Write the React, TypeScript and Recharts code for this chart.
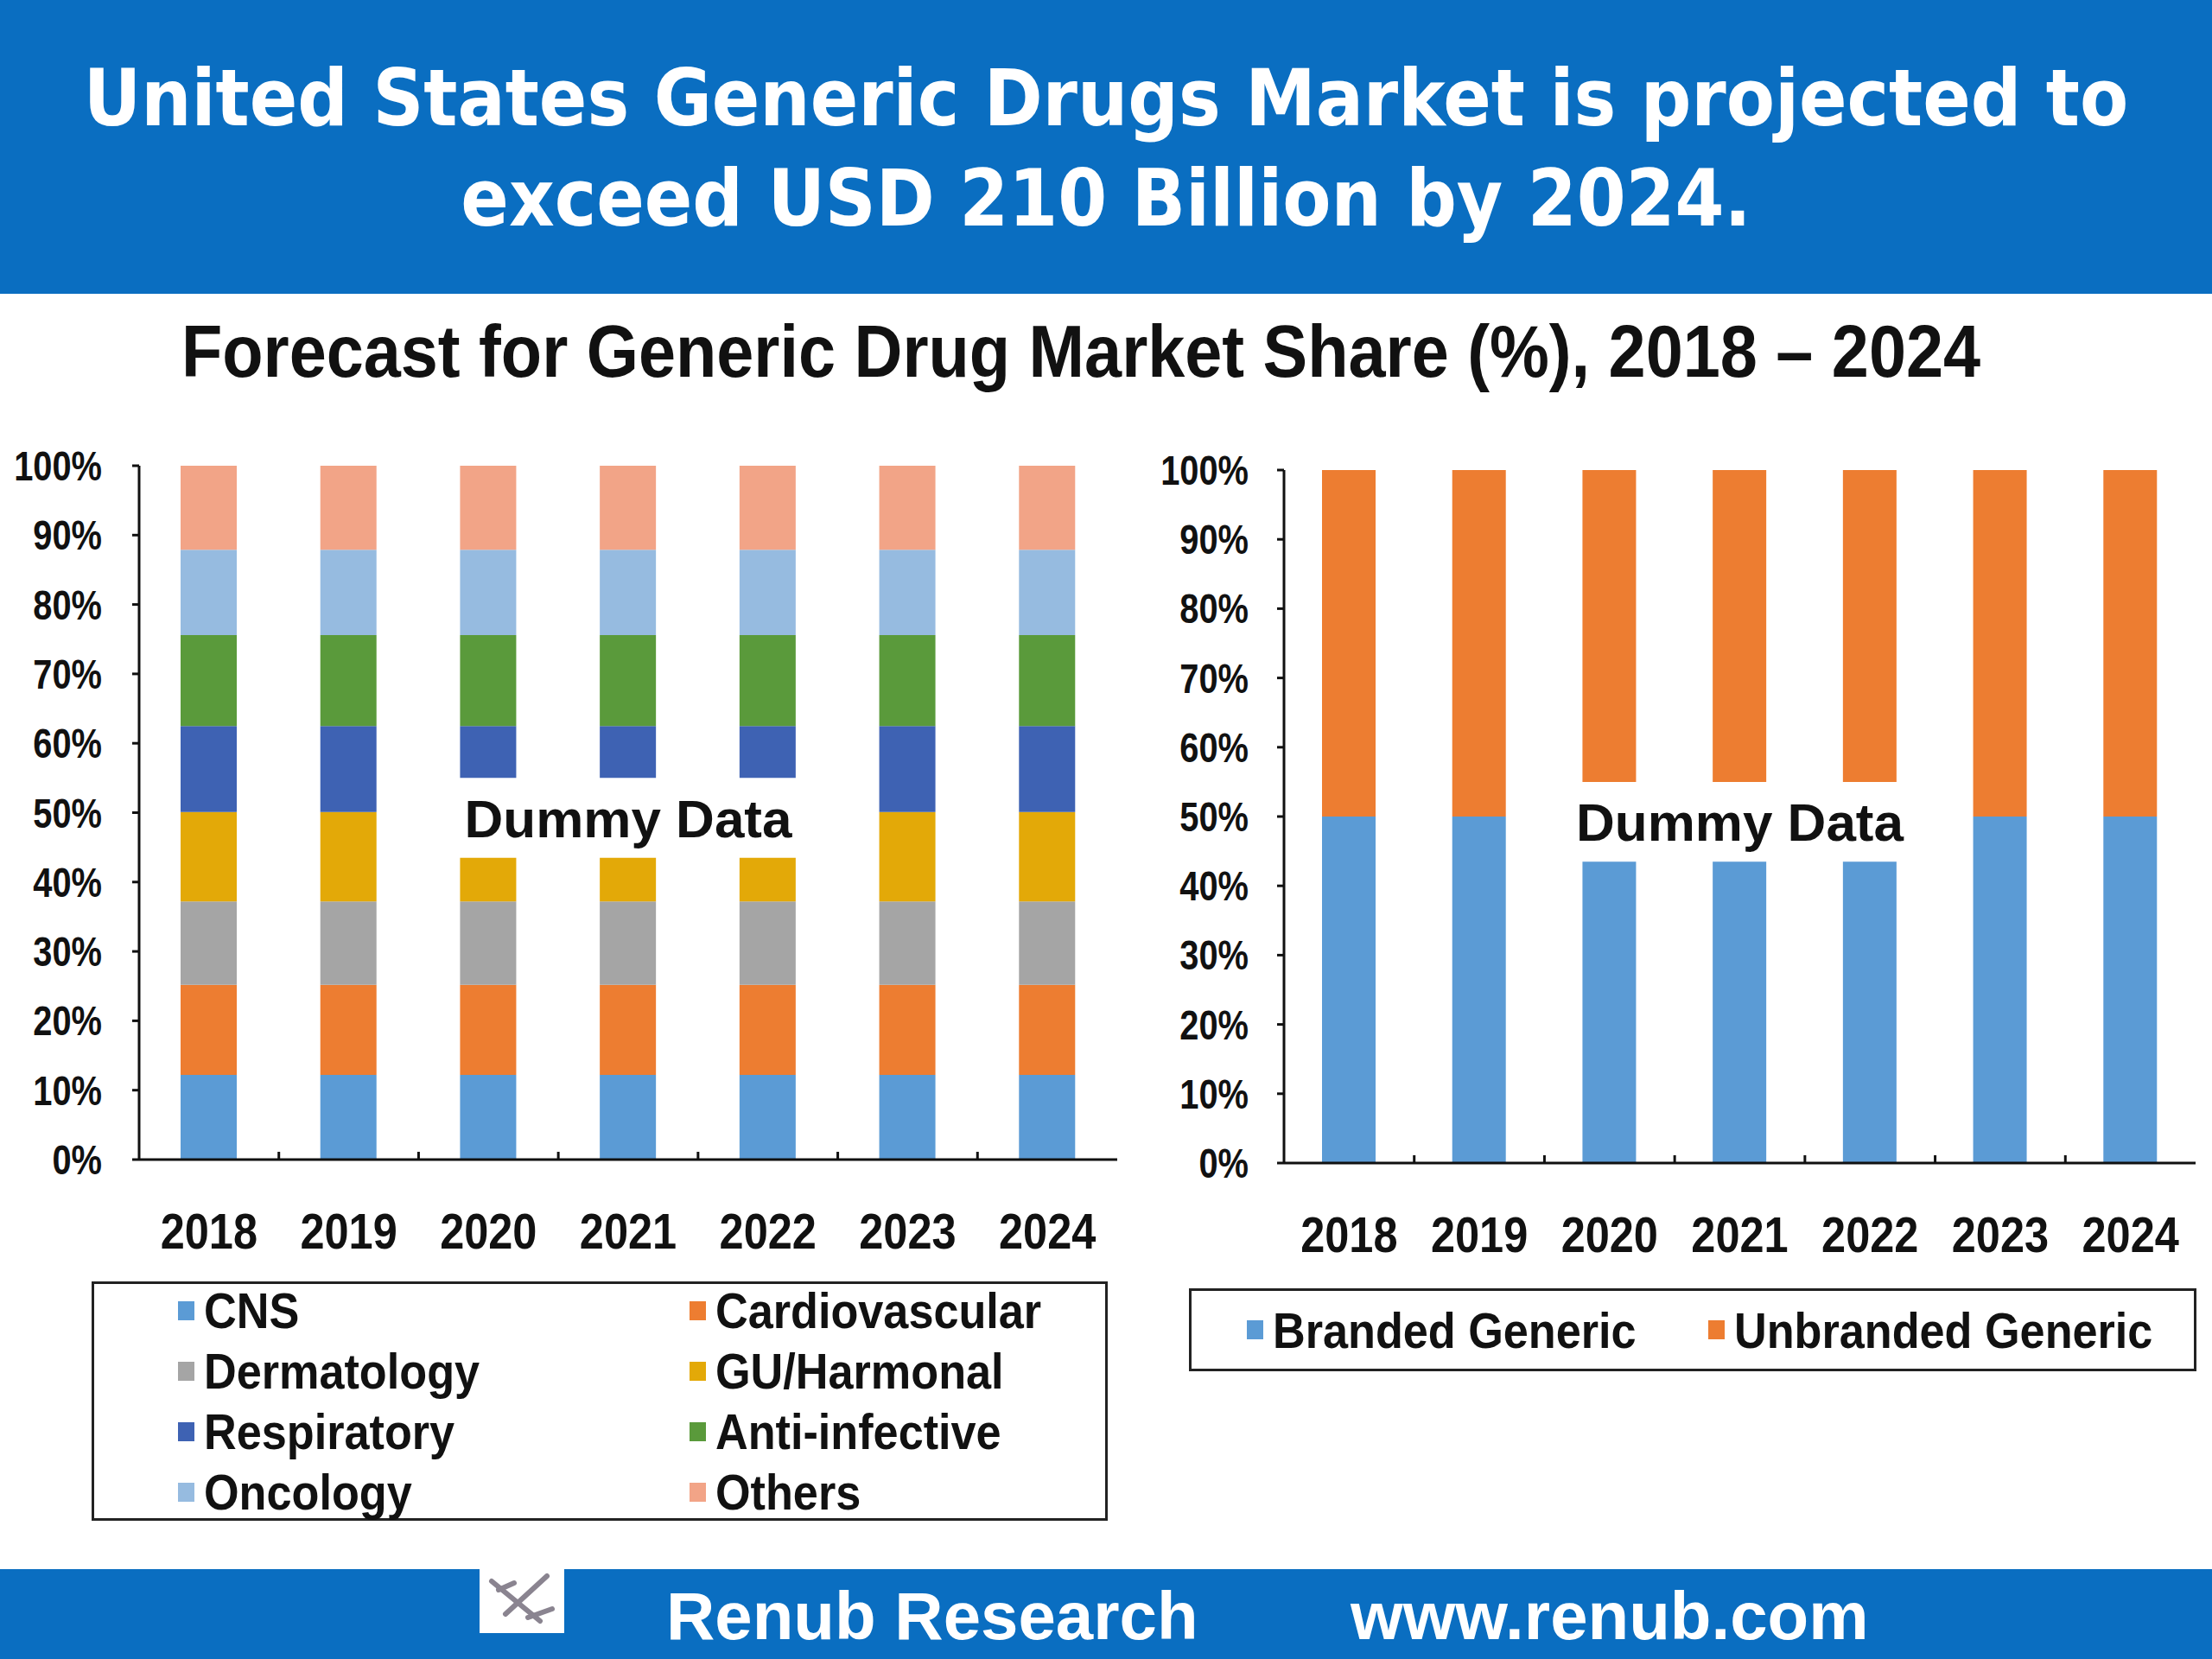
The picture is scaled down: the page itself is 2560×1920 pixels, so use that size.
import React from 'react';
import { BarChart, Bar, XAxis, YAxis, ReferenceArea } from 'recharts';

// years on both x axes
const YEARS = ['2018', '2019', '2020', '2021', '2022', '2023', '2024'];

// left chart: therapeutic area share (%)
const CNS = [12.2, 12.2, 12.2, 12.2, 12.2, 12.2, 12.2];
const CARDIOVASCULAR = [13, 13, 13, 13, 13, 13, 13];
const DERMATOLOGY = [12, 12, 12, 12, 12, 12, 12];
const GU_HARMONAL = [12.9, 12.9, 12.9, 12.9, 12.9, 12.9, 12.9];
const RESPIRATORY = [12.4, 12.4, 12.4, 12.4, 12.4, 12.4, 12.4];
const ANTI_INFECTIVE = [13.1, 13.1, 13.1, 13.1, 13.1, 13.1, 13.1];
const ONCOLOGY = [12.3, 12.3, 12.3, 12.3, 12.3, 12.3, 12.3];
const OTHERS = [12.1, 12.1, 12.1, 12.1, 12.1, 12.1, 12.1];

// right chart: branded vs unbranded share (%)
const BRANDED = [50, 50, 50, 50, 50, 50, 50];
const UNBRANDED = [50, 50, 50, 50, 50, 50, 50];

const PCT_TICKS = [0, 10, 20, 30, 40, 50, 60, 70, 80, 90, 100];

const AREA_SERIES = [
  { key: 'cns', name: 'CNS', color: '#5B9BD5', values: CNS },
  { key: 'cardio', name: 'Cardiovascular', color: '#ED7D31', values: CARDIOVASCULAR },
  { key: 'derm', name: 'Dermatology', color: '#A5A5A5', values: DERMATOLOGY },
  { key: 'gu', name: 'GU/Harmonal', color: '#E3A908', values: GU_HARMONAL },
  { key: 'resp', name: 'Respiratory', color: '#3E62B3', values: RESPIRATORY },
  { key: 'anti', name: 'Anti-infective', color: '#5A9A3B', values: ANTI_INFECTIVE },
  { key: 'onc', name: 'Oncology', color: '#96BBE0', values: ONCOLOGY },
  { key: 'others', name: 'Others', color: '#F2A487', values: OTHERS },
];

const TYPE_SERIES = [
  { key: 'branded', name: 'Branded Generic', color: '#5B9BD5', values: BRANDED },
  { key: 'unbranded', name: 'Unbranded Generic', color: '#ED7D31', values: UNBRANDED },
];

const toRows = (series: Array<{ key: string; values: number[] }>) =>
  YEARS.map((year, i) => {
    const row: { year: string; [k: string]: any } = { year };
    series.forEach((s) => {
      row[s.key] = s.values[i];
    });
    return row;
  });

const areaData = toRows(AREA_SERIES);
const typeData = toRows(TYPE_SERIES);

// no Arial Narrow available, so squeeze Liberation Sans horizontally
const ARIAL = '"Liberation Sans", Arial, sans-serif';
const BLUE = '#0A6EC1';

const X_TICK_SIZE = 8;
const X_TICK_MARGIN = 54;

const YTick = (props: any) => {
  const { x, y, payload } = props;
  return (
    <text
      transform={`translate(${x},${y}) scale(0.83,1)`}
      textAnchor="end"
      dy="0.355em"
      fill="#111"
      fontSize={48}
      fontWeight={700}
      fontFamily={ARIAL}
    >
      {`${payload.value}%`}
    </text>
  );
};

// year label, plus the excel-style mark on the left edge of each category band
const XTick = (props: any) => {
  const { x, y, payload, index } = props;
  const axisY = y - X_TICK_SIZE - X_TICK_MARGIN;
  const half = payload && typeof payload.offset === 'number' ? payload.offset : 0;
  return (
    <g>
      {index > 0 && half > 0 && (
        <line x1={x - half} x2={x - half} y1={axisY} y2={axisY - 9} stroke="#111" strokeWidth={3} />
      )}
      <text
        transform={`translate(${x},${y}) scale(0.87,1)`}
        textAnchor="middle"
        dy="0.71em"
        fill="#111"
        fontSize={58}
        fontWeight={700}
        fontFamily={ARIAL}
      >
        {payload.value}
      </text>
    </g>
  );
};

const dummyLabel = {
  value: 'Dummy Data',
  position: 'center' as const,
  fill: '#111',
  fontSize: 62,
  fontWeight: 700,
  fontFamily: ARIAL,
};

const LegendBox: React.FC<{
  items: Array<{ name: string; color: string }>;
  columns: string;
  style: React.CSSProperties;
}> = ({ items, columns, style }) => (
  <div
    style={{
      position: 'absolute',
      border: '3px solid #222',
      boxSizing: 'border-box',
      display: 'grid',
      gridTemplateColumns: columns,
      alignContent: 'center',
      fontFamily: ARIAL,
      fontWeight: 700,
      fontSize: 58,
      color: '#111',
      ...style,
    }}
  >
    {items.map((it) => (
      <div key={it.name} style={{ display: 'flex', alignItems: 'center', height: 70, whiteSpace: 'nowrap' }}>
        <span style={{ width: 19, height: 22, background: it.color, marginRight: 11, flex: 'none' }} />
        <span style={{ display: 'inline-block', transform: 'scaleX(0.9)', transformOrigin: 'left center' }}>
          {it.name}
        </span>
      </div>
    ))}
  </div>
);

const Logo = () => (
  <svg width={98} height={80} style={{ position: 'absolute', left: 555, top: 1810 }}>
    <rect width={98} height={80} fill="#fff" />
    <g stroke="#8a8490" strokeWidth={6} strokeLinecap="round">
      <line x1={14} y1={20} x2={70} y2={66} />
      <line x1={30} y1={58} x2={78} y2={14} />
      <line x1={22} y1={30} x2={40} y2={22} />
      <line x1={56} y1={62} x2={84} y2={52} />
    </g>
  </svg>
);

const axisStroke = { stroke: '#111', strokeWidth: 3 };

const renderAxes = (yTickMargin: number) => [
  <XAxis
    key="year"
    dataKey="year"
    tickLine={false}
    tickSize={X_TICK_SIZE}
    tickMargin={X_TICK_MARGIN}
    height={100}
    axisLine={axisStroke}
    tick={<XTick />}
  />,
  <YAxis
    key="pct"
    type="number"
    domain={[0, 100]}
    ticks={PCT_TICKS}
    interval={0}
    width={140}
    tickSize={8}
    tickMargin={yTickMargin}
    axisLine={axisStroke}
    tickLine={axisStroke}
    tick={<YTick />}
  />,
];

export default function App() {
  return (
    <div
      style={{
        position: 'absolute',
        left: 0,
        top: 0,
        width: 2560,
        height: 1920,
        background: '#fff',
        overflow: 'hidden',
      }}
    >
      {/* header */}
      <div
        style={{
          position: 'absolute',
          left: 0,
          top: 0,
          width: 2560,
          height: 340,
          background: BLUE,
          color: '#fff',
          fontFamily: '"DejaVu Sans Condensed", "DejaVu Sans", Verdana, sans-serif',
          fontStretch: 'condensed',
          fontWeight: 700,
          fontSize: 91,
          lineHeight: '116px',
          textAlign: 'center',
          paddingTop: 56,
          boxSizing: 'border-box',
          whiteSpace: 'nowrap',
        }}
      >
        United States Generic Drugs Market is projected to
        <br />
        exceed USD 210 Billion by 2024.
      </div>

      {/* chart title */}
      <div
        style={{
          position: 'absolute',
          left: 0,
          top: 356,
          width: 2502,
          textAlign: 'center',
          fontFamily: ARIAL,
          fontWeight: 700,
          fontSize: 86,
          lineHeight: '100px',
          color: '#111',
          whiteSpace: 'nowrap',
          transform: 'scaleX(0.9)',
          transformOrigin: '1251px 50%',
        }}
      >
        Forecast for Generic Drug Market Share (%), 2018 – 2024
      </div>

      {/* left chart */}
      <div style={{ position: 'absolute', left: 0, top: 500 }}>
        <BarChart
          width={1320}
          height={980}
          data={areaData}
          margin={{ top: 39, right: 27, bottom: 38, left: 21 }}
          barSize={65}
        >
          {renderAxes(35)}
          {AREA_SERIES.map((s) => (
            <Bar
              key={s.key}
              dataKey={s.key}
              name={s.name}
              stackId="share"
              fill={s.color}
              isAnimationActive={false}
            />
          ))}
          <ReferenceArea
            x1="2020"
            x2="2022"
            y1={43.5}
            y2={55}
            fill="#fff"
            fillOpacity={1}
            stroke="none"
            zIndex={1500}
            label={dummyLabel}
          />
        </BarChart>
      </div>

      {/* right chart */}
      <div style={{ position: 'absolute', left: 1340, top: 500 }}>
        <BarChart
          width={1220}
          height={980}
          data={typeData}
          margin={{ top: 44, right: 19, bottom: 34, left: 6 }}
          barSize={62}
        >
          {renderAxes(33)}
          {TYPE_SERIES.map((s) => (
            <Bar
              key={s.key}
              dataKey={s.key}
              name={s.name}
              stackId="type"
              fill={s.color}
              isAnimationActive={false}
            />
          ))}
          <ReferenceArea
            x1="2020"
            x2="2022"
            y1={43.5}
            y2={55}
            fill="#fff"
            fillOpacity={1}
            stroke="none"
            zIndex={1500}
            label={dummyLabel}
          />
        </BarChart>
      </div>

      {/* legends */}
      <LegendBox
        items={AREA_SERIES}
        columns="592px 460px"
        style={{ left: 106, top: 1483, width: 1176, height: 277, paddingLeft: 97 }}
      />
      <LegendBox
        items={TYPE_SERIES}
        columns="534px 560px"
        style={{ left: 1376, top: 1491, width: 1166, height: 96, paddingLeft: 64 }}
      />

      {/* footer */}
      <div
        style={{
          position: 'absolute',
          left: 0,
          top: 1816,
          width: 2560,
          height: 104,
          background: BLUE,
          color: '#fff',
          fontFamily: ARIAL,
          fontWeight: 700,
          fontSize: 78,
          lineHeight: '104px',
        }}
      >
        <span style={{ position: 'absolute', left: 771, top: 2 }}>Renub Research</span>
        <span style={{ position: 'absolute', left: 1563, top: 2 }}>www.renub.com</span>
      </div>
      <Logo />
    </div>
  );
}
